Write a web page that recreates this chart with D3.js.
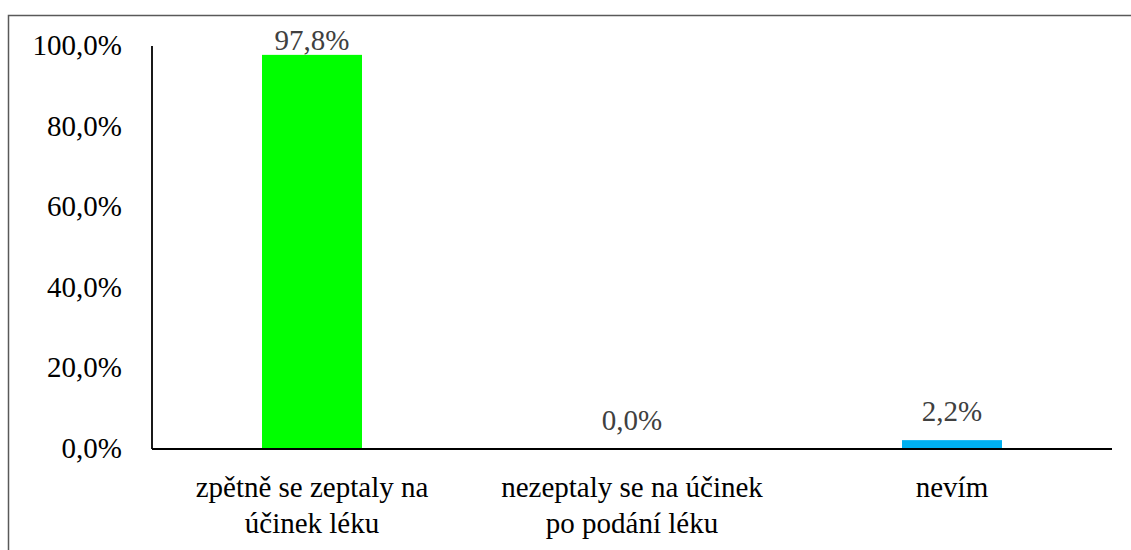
<!DOCTYPE html>
<html>
<head>
  <meta charset="UTF-8" />
  <script src="https://d3js.org/d3.v7.min.js"></script>
</head>
<body style="margin:0">

<svg id="chart" width="1131" height="550" style="display:block"></svg>

<script>
// data
const categories = [
  ["zpětně se zeptaly na", "účinek léku"],
  ["nezeptaly se na účinek", "po podání léku"],
  ["nevím"]
];
const values = [97.8, 0.0, 2.2];
const barColors = ["#00FF00", "#00B0F0", "#00B0F0"];
const yTicks = [0, 20, 40, 60, 80, 100];

const svg = d3.select("#chart");
const width = 1131;
const height = 550;
const margin = { top: 46, right: 19, bottom: 101, left: 152 };
const fontSize = 29;
const serif = "Times, Tinos, Liberation Serif, FreeSerif, serif";

const fmt = v => v.toFixed(1).replace(".", ",") + "%";

// outer frame (runs off the right and bottom edges)
svg.append("rect")
  .attr("x", 8.5)
  .attr("y", 15.5)
  .attr("width", width + 20)
  .attr("height", height + 20)
  .attr("fill", "none")
  .attr("stroke", "#595959")
  .attr("stroke-width", 1.5);

const x = d3.scaleBand()
  .domain(d3.range(categories.length))
  .range([margin.left, width - margin.right]);

const y = d3.scaleLinear()
  .domain([0, 100])
  .range([height - margin.bottom, margin.top]);

const barW = x.bandwidth() * 0.3125;
const cx = i => x(i) + x.bandwidth() / 2;

// bars
svg.selectAll(".bar")
  .data(values)
  .enter()
  .append("rect")
  .attr("class", "bar")
  .attr("x", (d, i) => cx(i) - barW / 2)
  .attr("y", d => y(d))
  .attr("width", barW)
  .attr("height", d => y(0) - y(d))
  .attr("fill", (d, i) => barColors[i]);

// axis lines
svg.append("line")
  .attr("x1", margin.left).attr("x2", margin.left)
  .attr("y1", y(100)).attr("y2", y(0))
  .attr("stroke", "#000").attr("stroke-width", 1.8);

svg.append("line")
  .attr("x1", margin.left).attr("x2", width - margin.right)
  .attr("y1", y(0)).attr("y2", y(0))
  .attr("stroke", "#000").attr("stroke-width", 1.8);

const txt = svg.append("g")
  .attr("font-family", serif)
  .attr("font-size", fontSize);

// y tick labels
txt.selectAll(".ytick")
  .data(yTicks)
  .enter()
  .append("text")
  .attr("class", "ytick")
  .attr("x", margin.left - 30)
  .attr("y", d => y(d) + 9)
  .attr("text-anchor", "end")
  .attr("fill", "#000")
  .text(fmt);

// value labels
txt.selectAll(".val")
  .data(values)
  .enter()
  .append("text")
  .attr("class", "val")
  .attr("x", (d, i) => cx(i))
  .attr("y", d => Math.max(y(d) - 19, 50))
  .attr("text-anchor", "middle")
  .attr("fill", "#404040")
  .text(fmt);

// category labels
const cat = txt.selectAll(".cat")
  .data(categories)
  .enter()
  .append("text")
  .attr("class", "cat")
  .attr("text-anchor", "middle")
  .attr("fill", "#000")
  .attr("transform", (d, i) => `translate(${cx(i)},${y(0) + 48})`);

cat.selectAll("tspan")
  .data(d => d)
  .enter()
  .append("tspan")
  .attr("x", 0)
  .attr("dy", (d, i) => i === 0 ? 0 : 36)
  .text(d => d);
</script>

</body>
</html>
